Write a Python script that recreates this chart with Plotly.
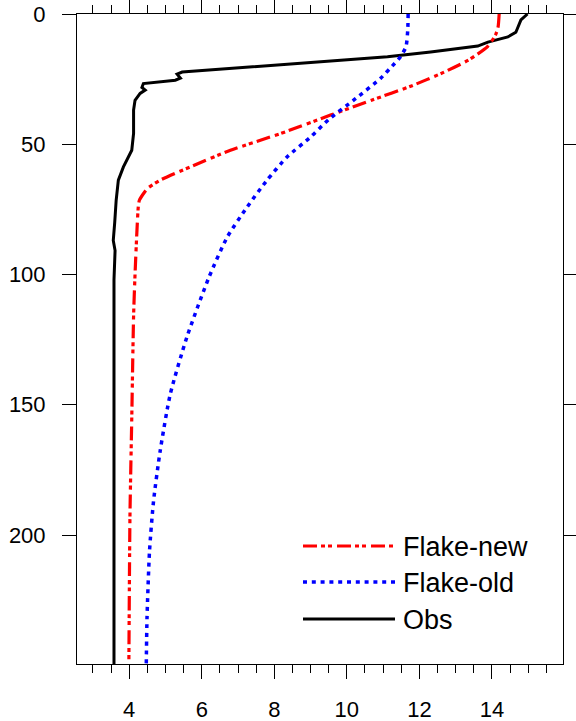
import plotly.graph_objects as go

# ---- data (temperature vs depth) ----
obs_depth = [0, 2.3, 5, 7, 8.8, 10.8, 12.3, 14.6, 16.4, 18.3, 20.4, 21.9, 22.3, 23.1, 24.6, 25.4,
             26.7, 28.2, 29.2, 30.5, 33.1, 36.9, 45.8, 52.3, 58.7, 63.8, 71.5, 80, 86.9, 90.8,
             102, 150, 200, 250]
obs_temp = [14.98, 14.8, 14.72, 14.66, 14.44, 13.89, 13.61, 12.31, 11.12, 9.27, 7.34, 5.96, 5.46,
            5.32, 5.41, 5.27, 4.39, 4.35, 4.44, 4.30, 4.16, 4.12, 4.12, 4.07, 3.84, 3.70, 3.64,
            3.60, 3.56, 3.61, 3.58, 3.58, 3.58, 3.58]

new_depth = [0, 5, 8, 12.5, 17.7, 22.5, 27.5, 33, 38.8, 45.9, 52.3, 58.7, 63.8, 67, 69, 71.5, 74,
             84, 100, 116, 155, 193, 250]
new_temp = [14.2, 14.17, 14.1, 13.88, 13.35, 12.65, 11.8, 10.7, 9.55, 8.17, 6.79, 5.68, 4.85, 4.5,
            4.39, 4.28, 4.25, 4.21, 4.16, 4.12, 4.07, 4.02, 3.99]

old_depth = [0, 6, 12.6, 16.4, 20, 24.7, 32.4, 40.5, 47.2, 54.9, 63.8, 74.1, 85.7, 101, 124, 146,
             168, 187, 206, 232, 250]
old_temp = [11.69, 11.68, 11.63, 11.48, 11.25, 10.93, 10.25, 9.5, 9.0, 8.35, 7.8, 7.25, 6.7, 6.2,
            5.59, 5.13, 4.85, 4.67, 4.56, 4.49, 4.47]

x_ticks = [4, 6, 8, 10, 12, 14]
y_ticks = [0, 50, 100, 150, 200]

series_names = ["Flake-new", "Flake-old", "Obs"]

FONT = "Liberation Sans, Arial, Helvetica, sans-serif"
RED_DASH = "14px,4px,4px,3px,4px,5px"
BLUE_DASH = "4px,4.8px"

fig = go.Figure()
fig.add_trace(go.Scatter(x=obs_temp, y=obs_depth, mode="lines", name=series_names[2],
                         line=dict(color="black", width=3), showlegend=False))
fig.add_trace(go.Scatter(x=new_temp, y=new_depth, mode="lines", name=series_names[0],
                         line=dict(color="red", width=3.2, dash=RED_DASH, shape="spline",
                                   smoothing=0.6), showlegend=False))
fig.add_trace(go.Scatter(x=old_temp, y=old_depth, mode="lines", name=series_names[1],
                         line=dict(color="blue", width=3.5, dash=BLUE_DASH, shape="spline",
                                   smoothing=0.6), showlegend=False))

W, H = 576, 721
L, R, T, B = 77, 13, 14, 57
pw, ph = W - L - R, H - T - B


def px2paper_x(px):
    return (px - L) / pw


def px2paper_y(py):
    return (H - B - py) / ph


# custom legend
legend_rows = [
    (series_names[0], "red", RED_DASH, 3.2, 546),
    (series_names[1], "blue", BLUE_DASH, 3.5, 582),
    (series_names[2], "black", "solid", 3, 619),
]
for name, col, dash, w, py in legend_rows:
    fig.add_shape(type="line", xref="paper", yref="paper",
                  x0=px2paper_x(303), x1=px2paper_x(395),
                  y0=px2paper_y(py), y1=px2paper_y(py),
                  line=dict(color=col, width=w, dash=dash))
    fig.add_annotation(xref="paper", yref="paper", x=px2paper_x(401), y=px2paper_y(py + 1),
                       text=name, showarrow=False, xanchor="left", yanchor="middle",
                       font=dict(family=FONT, size=27, color="black"))

fig.update_layout(
    width=W, height=H,
    margin=dict(l=L, r=R, t=T, b=B, pad=0, autoexpand=False),
    paper_bgcolor="white", plot_bgcolor="white",
    font=dict(family=FONT, color="black"),
)
fig.update_xaxes(
    range=[2.56, 15.96], tickvals=x_ticks, ticktext=[str(v) for v in x_ticks],
    ticks="outside", ticklen=14, tickwidth=1, tickcolor="black",
    showline=True, linecolor="black", linewidth=1, mirror="ticks",
    showgrid=False, zeroline=False, automargin=False,
    tickfont=dict(family=FONT, size=22, color="black"),
    ticklabelstandoff=12,
    minor=dict(dtick=0.5, tick0=0, ticks="outside", ticklen=8, tickwidth=1, tickcolor="black",
               showgrid=False),
)
fig.update_yaxes(
    range=[249.5, 0], tickvals=y_ticks, ticktext=[str(v) for v in y_ticks],
    ticks="outside", ticklen=14, tickwidth=1, tickcolor="black",
    showline=True, linecolor="black", linewidth=1, mirror="ticks",
    showgrid=False, zeroline=False, automargin=False,
    tickfont=dict(family=FONT, size=22, color="black"),
    ticklabelstandoff=12,
)

fig.write_html("out.html")
